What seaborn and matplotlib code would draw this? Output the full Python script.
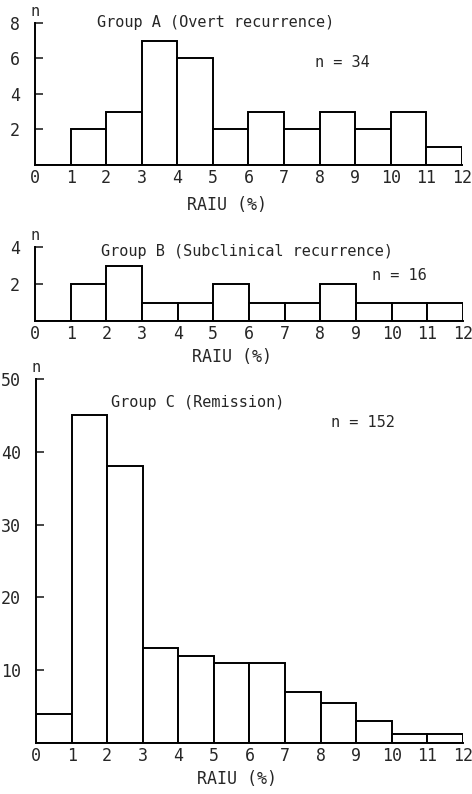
import numpy as np
import pandas as pd
import matplotlib
matplotlib.use("Agg")
import matplotlib.pyplot as plt
import seaborn as sns

sns.set_style("white")
plt.rcParams['font.family'] = ['DejaVu Sans Mono', 'DejaVu Sans']

bin_edges = list(range(13))
x_tick_labels = [str(i) for i in range(13)]
counts_a = [0, 2, 3, 7, 6, 2, 3, 2, 3, 2, 3, 1]
counts_b = [0, 2, 3, 1, 1, 2, 1, 1, 2, 1, 1, 1]
counts_c = [4, 45, 38, 13, 12, 11, 11, 7, 5.5, 3, 1.3, 1.3]
titles = ["Group A (Overt recurrence)", "Group B (Subclinical recurrence)", "Group C (Remission)"]
n_labels = ["n = 34", "n = 16", "n = 152"]
y_ticks_a = [2, 4, 6, 8]
y_ticks_b = [2, 4]
y_ticks_c = [10, 20, 30, 40, 50]
xlabel = "RAIU (%)"

fig = plt.figure(figsize=(4.72, 7.94), dpi=100)
W, H = 472, 794

def make_ax(left, top, right, bottom):
    return fig.add_axes([left / W, 1 - bottom / H, (right - left) / W, (bottom - top) / H])

ax_a = make_ax(35, 23, 462, 165)
ax_b = make_ax(35, 247, 463, 321)
ax_c = make_ax(36, 379, 463, 743)

specs = [
    (ax_a, counts_a, y_ticks_a, 8, titles[0], (1.74, 8.0), n_labels[0], (7.87, 5.76), 0.45, 31),
    (ax_b, counts_b, y_ticks_b, 4, titles[1], (1.85, 3.77), n_labels[1], (9.45, 2.45), 0.46, 27),
    (ax_c, counts_c, y_ticks_c, 50, titles[2], (2.1, 46.8), n_labels[2], (8.3, 44.0), 0.47, 27),
]

for ax, counts, yt, ymax, title, tpos, nlab, npos, xlx, off in specs:
    df = pd.DataFrame({"x": np.array(bin_edges[:-1]) + 0.5, "w": counts})
    sns.histplot(data=df, x="x", weights="w", bins=bin_edges, ax=ax,
                 color="white", edgecolor="black", linewidth=1.4, alpha=1.0)
    ax.set_xlim(0, 12)
    ax.set_ylim(0, ymax)
    for s in ["top", "right"]:
        ax.spines[s].set_visible(False)
    for s in ["left", "bottom"]:
        ax.spines[s].set_color("black")
        ax.spines[s].set_linewidth(1.4)
    ax.set_xticks(bin_edges)
    ax.set_xticklabels(x_tick_labels)
    ax.set_yticks(yt)
    ax.set_yticklabels([str(v) for v in yt])
    ax.tick_params(axis="x", length=0, pad=3, labelsize=12)
    ax.tick_params(axis="y", direction="in", length=6, width=1.2, pad=11, labelsize=12, left=True)
    ax.set_ylabel("")
    ax.set_xlabel(xlabel, fontsize=12)
    h_px = ax.get_position().height * H
    ax.xaxis.set_label_coords(xlx, -off / h_px)
    ax.text(tpos[0], tpos[1], title, fontsize=11, va="center", ha="left")
    ax.text(npos[0], npos[1], nlab, fontsize=11, va="center", ha="left")
    ax.annotate("n", xy=(0, 1), xycoords="axes fraction", xytext=(0, 3),
                textcoords="offset points", ha="center", va="bottom", fontsize=11)
    ax.grid(False)

fig.savefig("out.png", dpi=100, facecolor="white")
